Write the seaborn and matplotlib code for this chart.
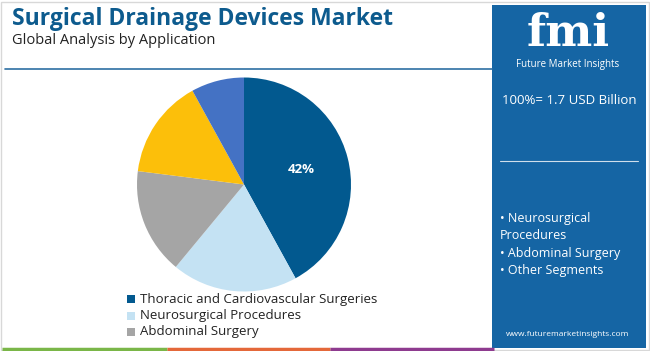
import matplotlib
matplotlib.use("Agg")
import matplotlib.pyplot as plt
import seaborn as sns
from matplotlib.patches import Rectangle

# Données
segments = ['Thoracic and Cardiovascular Surgeries', 'Neurosurgical Procedures',
            'Abdominal Surgery', 'Other Segments', 'Others']
parts = [42, 19, 16, 15, 8]
colors = ['#02598f', '#c4e2f3', '#a5a5a5', '#fcbf0a', '#4472c4']
legend_items = segments[:3]
panel_items = ['• Neurosurgical', 'Procedures', '• Abdominal Surgery', '• Other Segments']
total_txt = '100%= 1.7 USD Billion'

sns.set_theme(style='white')
plt.rcParams['font.family'] = ['Open Sans', 'DejaVu Sans']

W, H = 650, 351
fig = plt.figure(figsize=(6.5, 3.51), dpi=100, facecolor='white')

def fx(x):
    return x / W

def fy(y):
    return 1 - y / H

# bordure
fig.patches.append(Rectangle((fx(1), fy(350)), fx(648), 348 / H, transform=fig.transFigure,
                             fill=False, edgecolor='#d8d8d8', linewidth=1))

# titres
fig.text(fx(12), fy(19), 'Surgical Drainage Devices Market', fontsize=16.5, fontweight='bold',
         color='#0d5b8e', va='center', ha='left')
fig.text(fx(12), fy(40), 'Global Analysis by Application', fontsize=10.5, color='#222222',
         va='center', ha='left')
fig.add_artist(plt.Line2D([fx(5), fx(492)], [fy(69), fy(69)], transform=fig.transFigure,
                          color='#2d6fa3', linewidth=1.2))

# camembert
r = 107
cx, cy = 244, 184.5
ax = fig.add_axes([fx(cx - r), fy(cy + r), 2 * r / W, 2 * r / H])
wedges, texts, autotexts = ax.pie(parts, colors=colors, startangle=90, counterclock=False,
                                  autopct=lambda p: f'{p:.0f}%' if p > 40 else '',
                                  pctdistance=0.55,
                                  wedgeprops=dict(linewidth=0))
for t in autotexts:
    t.set_color('white')
    t.set_fontweight('bold')
    t.set_fontsize(9.5)
ax.set_xlim(-1, 1)
ax.set_ylim(-1, 1)
ax.set_aspect('equal')
ax.axis('off')

# légende
for i, lab in enumerate(legend_items):
    y = 299 + i * 16.5
    fig.patches.append(Rectangle((fx(127), fy(y + 4)), fx(8), 8 / H, transform=fig.transFigure,
                                 facecolor=colors[i], edgecolor='none'))
    fig.text(fx(140), fy(y), lab, fontsize=9.5, color='#222222', va='center', ha='left')

# bandeau du bas
for x0, x1, c in [(2, 167, '#7ab648'), (167, 330, '#e4683a'), (330, 494, '#8e3b8f')]:
    fig.add_artist(plt.Line2D([fx(x0), fx(x1)], [fy(348.5), fy(348.5)], transform=fig.transFigure,
                              color=c, linewidth=2.5, solid_capstyle='butt'))

# panneau de droite
fig.patches.append(Rectangle((fx(492), fy(348)), fx(154), 343 / H, transform=fig.transFigure,
                             facecolor='#1565a4', edgecolor='none'))
fig.text(fx(568), fy(46), 'fmi', fontsize=32, fontweight='bold', family='DejaVu Serif',
         color='white', va='baseline', ha='center')
fig.text(fx(568), fy(64), 'Future Market Insights', fontsize=7, color='white',
         va='center', ha='center')
fig.text(fx(502), fy(101), total_txt, fontsize=9.5, color='white', va='center', ha='left')
fig.add_artist(plt.Line2D([fx(500), fx(638)], [fy(161), fy(161)], transform=fig.transFigure,
                          color='white', linewidth=0.8, alpha=0.8))
for i, it in enumerate(panel_items):
    fig.text(fx(500), fy(218 + i * 17.5), it, fontsize=9, color='white', va='center', ha='left')
fig.text(fx(568), fy(335), 'www.futuremarketinsights.com', fontsize=6, color='white',
         va='center', ha='center')

plt.savefig('out.png', dpi=100, facecolor='white')
plt.close()
